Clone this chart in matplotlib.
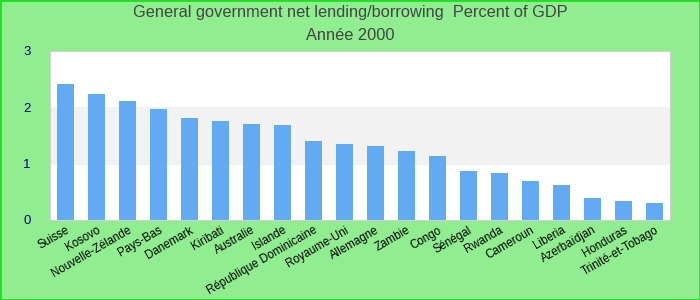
import matplotlib.pyplot as plt

countries = ['Suisse', 'Kosovo', 'Nouvelle-Zélande', 'Pays-Bas', 'Danemark', 'Kiribati',
             'Australie', 'Islande', 'République Dominicaine', 'Royaume-Uni', 'Allemagne',
             'Zambie', 'Congo', 'Sénégal', 'Rwanda', 'Cameroun', 'Liberia', 'Azerbaïdjan',
             'Honduras', 'Trinité-et-Tobago']
values = [2.41, 2.24, 2.11, 1.97, 1.81, 1.76, 1.70, 1.69, 1.40, 1.35, 1.31,
          1.22, 1.14, 0.87, 0.83, 0.69, 0.62, 0.39, 0.34, 0.30]
yticks = [0, 1, 2, 3]

plt.rcParams['font.family'] = ['Liberation Sans', 'DejaVu Sans']

fig = plt.figure(figsize=(7, 3), dpi=100, facecolor='#90ee90')
ax = fig.add_axes([50 / 700, 80 / 300, 620 / 700, 169 / 300])
ax.set_facecolor('white')

# alternating band
ax.axhspan(1, 2, color='#f2f2f2', zorder=0)

ax.bar(range(len(countries)), values, width=0.55, color='#62aaf2', zorder=2)

ax.set_xlim(-0.5, len(countries) - 0.5)
ax.set_ylim(0, 3)
ax.set_yticks(yticks)
ax.set_yticklabels([str(t) for t in yticks], color='#00008b', fontsize=9.5)
ax.tick_params(axis='y', length=0, pad=14)
ax.tick_params(axis='x', length=0, pad=3)
ax.set_xticks(range(len(countries)))
ax.set_xticklabels(countries, rotation=30, ha='right', rotation_mode='anchor', fontsize=8.3)

for s in ax.spines.values():
    s.set_color('#d0d0d0')

fig.text(0.5, 1 - 13 / 300, 'General government net lending/borrowing  Percent of GDP',
         ha='center', va='center', fontsize=11.8, color='#444444')
fig.text(0.5, 1 - 35 / 300, 'Année 2000', ha='center', va='center', fontsize=11.8, color='#444444')

# figure border
fig.patches.append(plt.Rectangle((0, 0), 1, 1, transform=fig.transFigure, fill=False,
                                 edgecolor='#22dd22', linewidth=2))

plt.savefig('out.png', dpi=100, facecolor=fig.get_facecolor())
